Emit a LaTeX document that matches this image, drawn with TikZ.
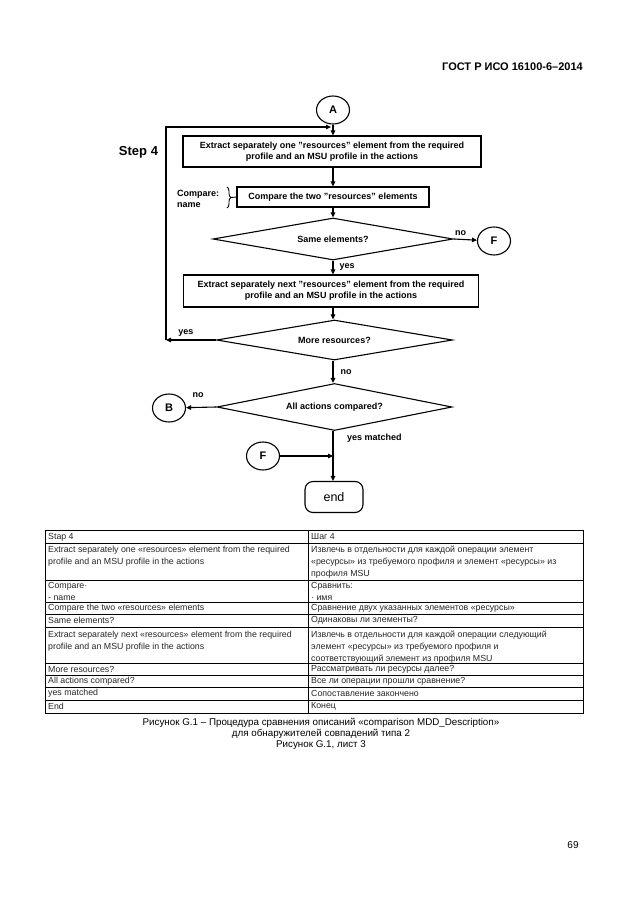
\documentclass[tikz,border=0pt]{standalone}
\usepackage{fontspec}
\setmainfont{Liberation Sans}
\usetikzlibrary{arrows.meta,shapes.geometric,decorations.pathreplacing}
\begin{document}
\begin{tikzpicture}[x=1pt,y=-1pt,
  fl/.style={line width=1.1pt},
  arr/.style={fl,-{Triangle[length=5pt,width=4.5pt]}},
  box/.style={fl,draw,rectangle,inner sep=0pt,align=center,font=\fontsize{9}{11}\selectfont\bfseries},
  dia/.style={fl,draw,diamond,inner sep=0pt,shape aspect=5,font=\fontsize{9}{11}\selectfont\bfseries},
  conn/.style={fl,draw,ellipse,inner sep=0pt,minimum width=33pt,minimum height=28pt,font=\fontsize{11}{13}\selectfont\bfseries},
  lbl/.style={inner sep=0pt,font=\fontsize{9}{11}\selectfont\bfseries},
  tbl/.style={line width=0.7pt},
  tt/.style={inner sep=0pt,anchor=west,align=left,font=\fontsize{8.8}{12}\selectfont,text=black!85},
  captxt/.style={inner sep=0pt,font=\fontsize{9.8}{11}\selectfont}
]
\useasboundingbox (0,0) rectangle (630,913);
% header
\node[inner sep=0pt,anchor=east,font=\fontsize{11}{13}\selectfont\bfseries] (hdr) at (583,67) {ГОСТ Р ИСО 16100-6–2014};
% flowchart
\node[conn] (A) at (333,110) {A};
\node[box,minimum width=298pt,minimum height=31pt] (b1) at (332,151.5) {Extract separately one "resources" element from the required\\profile and an MSU profile in the actions};
\node[inner sep=0pt,font=\fontsize{13}{15}\selectfont\bfseries] (step) at (138.5,152) {Step 4};
\node[box,minimum width=192pt,minimum height=20pt] (b2) at (333,197) {Compare the two "resources" elements};
\node[lbl,anchor=west,align=left,font=\fontsize{9}{11}\selectfont\bfseries] (cmp) at (177,198.5) {Compare:\\name};
\node[dia,minimum width=240pt,minimum height=42pt] (d1) at (333,239) {Same elements?};
\node[conn] (F1) at (494,241) {F};
\node[box,minimum width=295pt,minimum height=32pt] (b3) at (331,291) {Extract separately next "resources" element from the required\\profile and an MSU profile in the actions};
\node[dia,minimum width=236pt,minimum height=40pt] (d2) at (334.5,340) {More resources?};
\node[dia,minimum width=235pt,minimum height=47pt] (d3) at (334.5,407) {All actions compared?};
\node[conn] (B) at (169,408) {B};
\node[conn] (F2) at (263,456) {F};
\node[fl,draw,rectangle,rounded corners=8pt,minimum width=58pt,minimum height=31pt,inner sep=0pt,font=\fontsize{12.5}{14}\selectfont] (end) at (334,497) {end};
\coordinate (fbL) at (166,340);
\coordinate (fbT) at (331,127);
\coordinate (jn) at (333,456);
\coordinate (br) at (231,197.5);
% connectors
\draw[arr] (A) -- (b1.north -| A);
\draw[arr] (b1.south -| A) -- (b2.north -| A);
\draw[arr] (b2.south -| A) -- (d1.north -| A);
\draw[arr] (d1.east) -- (F1) node[lbl,pos=0.3,above=3pt] {no};
\draw[arr] (d1.south -| A) -- (b3.north -| A) node[lbl,midway,right=6pt] {yes};
\draw[arr] (b3.south -| A) -- (d2.north -| A);
\draw[arr] (d2.west) -- (fbL) node[lbl,pos=0.6,above=3pt] {yes};
\draw[arr] (fbL) |- (fbT);
\draw[arr] (d2.south -| A) -- (d3.north -| A) node[lbl,midway,right=7pt] {no};
\draw[arr] (d3.west) -- (B) node[lbl,pos=0.6,above=9pt] {no};
\draw[arr] (d3.south -| A) -- (end.north -| A);
\draw[arr] (F2) -- (jn);
\node[lbl,anchor=west] (ym) at (347,438) {yes matched};
\draw[line width=0.9pt,decorate,decoration={brace,amplitude=4pt}] (227,187) -- (227,208);
\draw[line width=0.9pt] (br) -- (b2.west);
% table
\def\xa{45}\def\xb{308}\def\xc{583}
\draw[tbl] (\xa,530) rectangle (\xc,713);
\draw[tbl] (\xb,530) -- (\xb,713);
\foreach \yy in {543,580,602,614,627,663,675,687,700} {\draw[tbl] (\xa,\yy) -- (\xc,\yy);}
\node[tt] (t1a) at (48,537) {Stap 4};
\node[tt] (t1b) at (311,537) {Шаг 4};
\node[tt] (t2a) at (48,556) {Extract separately one «resources» element from the required\\profile and an MSU profile in the actions};
\node[tt] (t2b) at (311,562) {Извлечь в отдельности для каждой операции элемент\\«ресурсы» из требуемого профиля и элемент «ресурсы» из\\профиля MSU};
\node[tt] (t3a) at (48,591.5) {Compare·\\- name};
\node[tt] (t3b) at (311,591.5) {Сравнить:\\· имя};
\node[tt] (t4a) at (48,608) {Compare the two «resources» elements};
\node[tt] (t4b) at (311,608) {Сравнение двух указанных элементов «ресурсы»};
\node[tt] (t5a) at (48,620.5) {Same elements?};
\node[tt] (t5b) at (311,620.5) {Одинаковы ли элементы?};
\node[tt] (t6a) at (48,641) {Extract separately next «resources» element from the required\\profile and an MSU profile in the actions};
\node[tt] (t6b) at (311,647) {Извлечь в отдельности для каждой операции следующий\\элемент «ресурсы» из требуемого профиля и\\соответствующий элемент из профиля MSU};
\node[tt] (t7a) at (48,669) {More resources?};
\node[tt] (t7b) at (311,669) {Рассматривать ли ресурсы далее?};
\node[tt] (t8a) at (48,681) {All actions compared?};
\node[tt] (t8b) at (311,681) {Все ли операции прошли сравнение?};
\node[tt] (t9a) at (48,693.5) {yes matched};
\node[tt] (t9b) at (311,693.5) {Сопоставление закончено};
\node[tt] (t10a) at (48,706.5) {End};
\node[tt] (t10b) at (311,706.5) {Конец};
% caption
\node[captxt] (c1) at (321,722.5) {Рисунок G.1 – Процедура сравнения описаний «comparison MDD\_Description»};
\node[captxt] (c2) at (321,734) {для обнаружителей совпадений типа 2};
\node[captxt] (c3) at (321,745.5) {Рисунок G.1, лист 3};
\node[inner sep=0pt,font=\fontsize{10}{12}\selectfont] (pg) at (573,845) {69};
\end{tikzpicture}
\end{document}
